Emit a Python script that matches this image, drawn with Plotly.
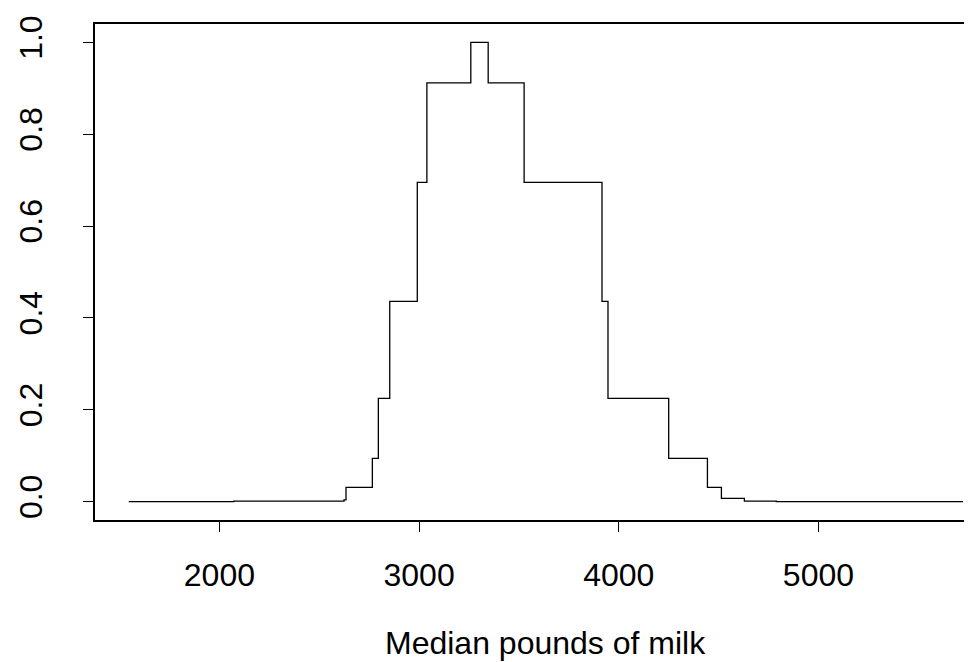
import plotly.graph_objects as go

# Step function: x where each level starts, and the level value
step_x = [1546, 2072, 2624, 2634, 2766, 2796, 2853, 2991, 3039, 3259, 3346,
          3526, 3916, 3946, 4250, 4444, 4514, 4629, 4789, 5724]
step_y = [0.0, 0.001, 0.004, 0.031, 0.094, 0.225, 0.436, 0.695, 0.912, 1.0, 0.912,
          0.695, 0.436, 0.225, 0.094, 0.031, 0.007, 0.001, 0.0, 0.0]

x_ticks = [2000, 3000, 4000, 5000]
y_ticks = [0.0, 0.2, 0.4, 0.6, 0.8, 1.0]
y_tick_labels = ["0.0", "0.2", "0.4", "0.6", "0.8", "1.0"]
x_title = "Median pounds of milk"

FONT = "Liberation Sans, Arial, sans-serif"

fig = go.Figure()
fig.add_trace(go.Scatter(
    x=step_x, y=step_y, mode="lines", line=dict(shape="hv", color="black", width=1.3),
    showlegend=False, hoverinfo="skip"))

fig.update_layout(
    width=972, height=662, autosize=False,
    margin=dict(l=87, r=0, t=16, b=150, pad=0),
    paper_bgcolor="white", plot_bgcolor="white",
    font=dict(family=FONT, size=32, color="black"),
    xaxis=dict(range=[1377, 5809], tickvals=x_ticks, ticks="outside", ticklen=10,
               tickwidth=1, tickcolor="black", showgrid=False, zeroline=False,
               showline=True, mirror=True, linecolor="black", linewidth=1.5,
               ticklabelstandoff=16),
    yaxis=dict(range=[-0.04, 1.04], tickvals=y_ticks, ticktext=y_tick_labels,
               tickangle=-90, ticks="outside", ticklen=10, tickwidth=1,
               tickcolor="black", showgrid=False, zeroline=False, showline=True,
               mirror=False, linecolor="black", linewidth=1.5, ticklabelstandoff=28),
    annotations=[dict(text=x_title, x=3634, xref="x", y=-0.248, yref="paper",
                      xanchor="center", yanchor="middle", showarrow=False,
                      font=dict(family=FONT, size=32, color="black"))],
)

fig.write_html("out.html")
